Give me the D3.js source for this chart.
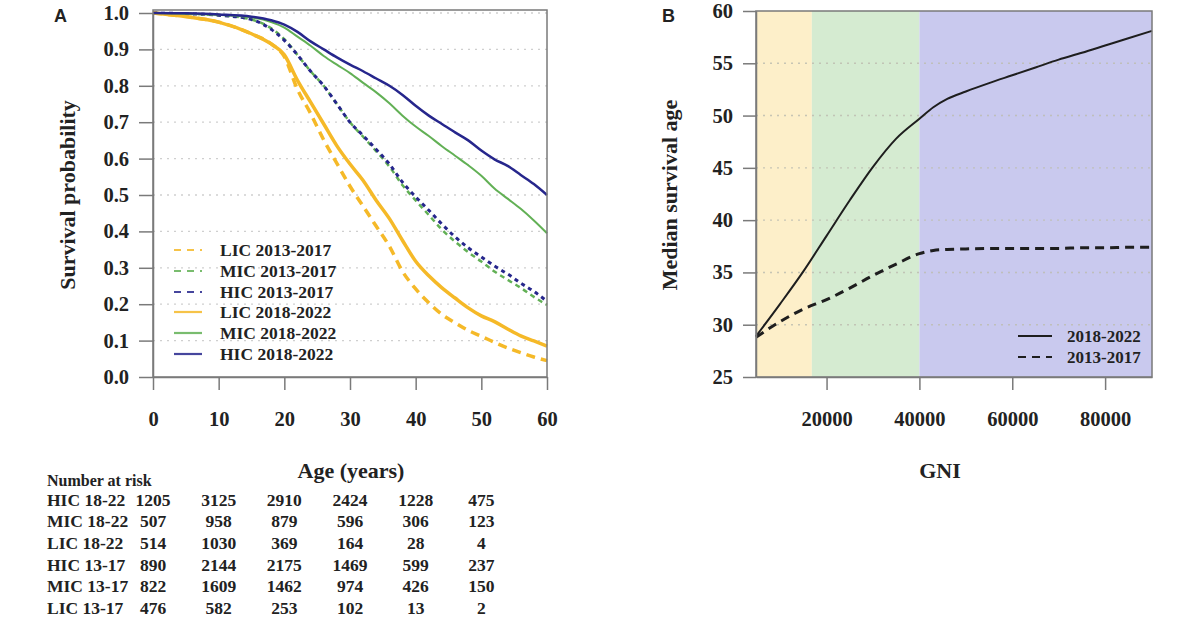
<!DOCTYPE html>
<html>
<head>
<meta charset="utf-8">
<script src="https://cdn.jsdelivr.net/npm/d3@7"></script>
<style>
  body { margin: 0; background: #fff; }
  text { font-family: "Liberation Serif", "Times New Roman", serif; font-weight: bold; fill: #222; }
</style>
</head>
<body>
<div id="chart"></div>
<script>
// Panel A: Kaplan-Meier survival
const ages = [0, 5, 10, 15, 18, 20, 22, 24, 26, 28, 30, 32, 34, 36, 38, 40, 42, 44, 46, 48, 50, 52, 54, 56, 58, 60];
const lic1317 = [1, 0.99, 0.975, 0.943, 0.915, 0.88, 0.79, 0.724, 0.651, 0.587, 0.524, 0.469, 0.414, 0.359, 0.29, 0.242, 0.204, 0.172, 0.149, 0.128, 0.112, 0.095, 0.08, 0.067, 0.055, 0.045];
const mic1317 = [1, 0.998, 0.994, 0.982, 0.958, 0.928, 0.885, 0.84, 0.8, 0.75, 0.7, 0.66, 0.62, 0.578, 0.527, 0.485, 0.445, 0.405, 0.372, 0.343, 0.317, 0.29, 0.267, 0.245, 0.22, 0.198];
const hic1317 = [1, 0.998, 0.994, 0.982, 0.955, 0.925, 0.885, 0.84, 0.8, 0.75, 0.7, 0.663, 0.625, 0.585, 0.535, 0.495, 0.458, 0.42, 0.385, 0.355, 0.33, 0.305, 0.283, 0.258, 0.235, 0.208];
const lic1822 = [1, 0.99, 0.975, 0.943, 0.915, 0.885, 0.815, 0.755, 0.695, 0.635, 0.585, 0.54, 0.485, 0.435, 0.375, 0.318, 0.278, 0.245, 0.217, 0.19, 0.168, 0.152, 0.132, 0.113, 0.099, 0.085];
const mic1822 = [1, 0.998, 0.995, 0.988, 0.975, 0.96, 0.935, 0.91, 0.882, 0.858, 0.835, 0.808, 0.782, 0.752, 0.718, 0.688, 0.662, 0.634, 0.608, 0.582, 0.553, 0.518, 0.49, 0.462, 0.43, 0.395];
const hic1822 = [1, 0.999, 0.996, 0.99, 0.98, 0.968, 0.948, 0.922, 0.9, 0.878, 0.858, 0.84, 0.82, 0.8, 0.775, 0.745, 0.718, 0.695, 0.672, 0.65, 0.622, 0.598, 0.58, 0.555, 0.53, 0.5];
const seriesNames = ["LIC 2013-2017", "MIC 2013-2017", "HIC 2013-2017", "LIC 2018-2022", "MIC 2018-2022", "HIC 2018-2022"];
const ageTicks = [0, 10, 20, 30, 40, 50, 60];
const probTicks = [0, 0.1, 0.2, 0.3, 0.4, 0.5, 0.6, 0.7, 0.8, 0.9, 1.0];

// Number at risk table
const riskLabels = ["HIC 18-22", "MIC 18-22", "LIC 18-22", "HIC 13-17", "MIC 13-17", "LIC 13-17"];
const riskAges = [0, 10, 20, 30, 40, 50];
const riskCounts = [
  [1205, 3125, 2910, 2424, 1228, 475],
  [507, 958, 879, 596, 306, 123],
  [514, 1030, 369, 164, 28, 4],
  [890, 2144, 2175, 1469, 599, 237],
  [822, 1609, 1462, 974, 426, 150],
  [476, 582, 253, 102, 13, 2]
];

// Panel B: median survival age by GNI
const gni = [4800, 10000, 15000, 20000, 25000, 30000, 35000, 40000, 43000, 46000, 50000, 55000, 60000, 65000, 70000, 75000, 80000, 85000, 90100];
const median1822 = [28.9, 32.0, 35.1, 38.5, 41.9, 45.1, 47.8, 49.7, 50.8, 51.6, 52.3, 53.1, 53.85, 54.6, 55.35, 56.0, 56.7, 57.4, 58.1];
const median1317 = [28.8, 30.3, 31.5, 32.4, 33.5, 34.7, 35.8, 36.8, 37.1, 37.2, 37.25, 37.3, 37.3, 37.3, 37.3, 37.35, 37.35, 37.4, 37.4];
const incomeBreaks = [4800, 16830, 40000, 90100];
const gniTicks = [20000, 40000, 60000, 80000];
const ageMedTicks = [25, 30, 35, 40, 45, 50, 55, 60];
const periodNames = ["2018-2022", "2013-2017"];

const W = 1200, H = 628;
const svg = d3.select("#chart").append("svg").attr("width", W).attr("height", H);

const boxColor = "#7a7a7a";
const gridColor = "#cfcfcf";
const tickFont = 20.5;

function styleAxis(g) {
  g.select(".domain").attr("stroke", boxColor).attr("stroke-width", 1.5);
  g.selectAll(".tick line").attr("stroke", boxColor).attr("stroke-width", 1.5);
  g.selectAll(".tick text").attr("font-size", tickFont).attr("font-family", "Liberation Serif")
    .attr("font-weight", "bold").attr("fill", "#222");
}

// ---------- Panel A ----------
const ax = d3.scaleLinear().domain([0, 60]).range([153, 547]);
const ay = d3.scaleLinear().domain([0, 1]).range([377, 13]);

const gA = svg.append("g");

// grid
gA.append("g").selectAll("line").data(probTicks.filter(d => d > 0)).join("line")
  .attr("x1", ax(0)).attr("x2", ax(60))
  .attr("y1", d => ay(d)).attr("y2", d => ay(d))
  .attr("stroke", gridColor).attr("stroke-width", 1.3).attr("stroke-dasharray", "2,5");

const colors = ["#f5b928", "#62b055", "#26268c", "#f5b928", "#62b055", "#26268c"];
const widths = [3.5, 2.5, 3, 3.5, 2, 2.5];
const dashes = ["9,6", "5,4", "4,4", null, null, null];
const series = [lic1317, mic1317, hic1317, lic1822, mic1822, hic1822];

const kmLine = d3.line().x((d, i) => ax(ages[i])).y(d => ay(d)).curve(d3.curveMonotoneX);
gA.append("g").selectAll("path").data(series).join("path")
  .attr("d", kmLine)
  .attr("fill", "none")
  .attr("stroke", (d, i) => colors[i])
  .attr("stroke-width", (d, i) => widths[i])
  .attr("stroke-dasharray", (d, i) => dashes[i]);

// box
gA.append("rect").attr("x", ax(0)).attr("y", 10).attr("width", ax(60) - ax(0)).attr("height", ay(0) - 10)
  .attr("fill", "none").attr("stroke", boxColor).attr("stroke-width", 1.5);

// axes
gA.append("g").attr("transform", `translate(0,${ay(0)})`)
  .call(d3.axisBottom(ax).tickValues(ageTicks).tickSize(13).tickSizeOuter(0).tickPadding(21))
  .call(styleAxis);
gA.append("g").attr("transform", `translate(${ax(0)},0)`)
  .call(d3.axisLeft(ay).tickValues(probTicks).tickFormat(d3.format(".1f")).tickSize(14).tickSizeOuter(0).tickPadding(10))
  .call(styleAxis);

// legend
const legA = gA.append("g");
const legRowsY = [250, 271, 292, 312, 333, 354];
seriesNames.forEach((name, i) => {
  legA.append("line").attr("x1", 174).attr("x2", 202).attr("y1", legRowsY[i]).attr("y2", legRowsY[i])
    .attr("stroke", colors[i]).attr("stroke-width", 2.2).attr("stroke-opacity", 0.85)
    .attr("stroke-dasharray", dashes[i] ? "7,6" : null);
  legA.append("text").attr("x", 220).attr("y", legRowsY[i]).attr("dy", "0.35em")
    .attr("font-size", 17.5).text(name);
});

// titles
gA.append("text").attr("transform", `translate(75,195) rotate(-90)`).attr("text-anchor", "middle")
  .attr("font-size", 22).text("Survival probability");
gA.append("text").attr("x", 351).attr("y", 478).attr("text-anchor", "middle").attr("font-size", 22).text("Age (years)");
gA.append("text").attr("x", 54).attr("y", 22).attr("font-size", 18)
  .style("font-family", "Liberation Sans, Arial, sans-serif").text("A");

// risk table
const riskG = gA.append("g");
riskG.append("text").attr("x", 47).attr("y", 486).attr("font-size", 16).text("Number at risk");
const rowY = [506, 527, 549, 571, 592, 614];
riskLabels.forEach((lab, r) => {
  riskG.append("text").attr("x", 47).attr("y", rowY[r]).attr("font-size", 17.5).text(lab);
  riskG.selectAll(null).data(riskCounts[r]).join("text")
    .attr("x", (d, i) => ax(riskAges[i])).attr("y", rowY[r]).attr("text-anchor", "middle")
    .attr("font-size", 17.5).text(d => d);
});

// ---------- Panel B ----------
const bx = d3.scaleLinear().domain([4800, 90100]).range([756, 1152]);
const by = d3.scaleLinear().domain([25, 60]).range([377, 11]);
const gB = svg.append("g");

const bandColors = ["#fdefc9", "#d5ebd1", "#c9c9ee"];
gB.append("g").selectAll("rect").data(d3.pairs(incomeBreaks)).join("rect")
  .attr("x", d => bx(d[0])).attr("width", d => bx(d[1]) - bx(d[0]))
  .attr("y", by(60)).attr("height", by(25) - by(60))
  .attr("fill", (d, i) => bandColors[i]);

gB.append("g").selectAll("line").data(ageMedTicks.filter(d => d > 25 && d < 60)).join("line")
  .attr("x1", bx(4800)).attr("x2", bx(90100))
  .attr("y1", d => by(d)).attr("y2", d => by(d))
  .attr("stroke", "#bdbdb0").attr("stroke-opacity", 0.85).attr("stroke-width", 1.4).attr("stroke-dasharray", "2,5");

const medLine = d3.line().x((d, i) => bx(gni[i])).y(d => by(d)).curve(d3.curveMonotoneX);
gB.append("path").datum(median1822).attr("d", medLine).attr("fill", "none")
  .attr("stroke", "#1e1e1e").attr("stroke-width", 2);
gB.append("path").datum(median1317).attr("d", medLine).attr("fill", "none")
  .attr("stroke", "#1e1e1e").attr("stroke-width", 3).attr("stroke-dasharray", "9,6");

gB.append("rect").attr("x", bx(4800)).attr("y", by(60)).attr("width", bx(90100) - bx(4800)).attr("height", by(25) - by(60))
  .attr("fill", "none").attr("stroke", boxColor).attr("stroke-width", 1.5);

gB.append("g").attr("transform", `translate(0,${by(25)})`)
  .call(d3.axisBottom(bx).tickValues(gniTicks).tickFormat(d3.format("d")).tickSize(13).tickSizeOuter(0).tickPadding(21))
  .call(styleAxis);
gB.append("g").attr("transform", `translate(${bx(4800)},0)`)
  .call(d3.axisLeft(by).tickValues(ageMedTicks).tickSize(13).tickSizeOuter(0).tickPadding(10))
  .call(styleAxis);

// legend B
const legBY = [336, 357];
periodNames.forEach((name, i) => {
  gB.append("line").attr("x1", 1018).attr("x2", 1052).attr("y1", legBY[i]).attr("y2", legBY[i])
    .attr("stroke", "#1e1e1e").attr("stroke-width", 2).attr("stroke-dasharray", i ? "8,6" : null);
  gB.append("text").attr("x", 1067).attr("y", legBY[i]).attr("dy", "0.35em").attr("font-size", 17).text(name);
});

gB.append("text").attr("transform", `translate(677,195) rotate(-90)`).attr("text-anchor", "middle")
  .attr("font-size", 22).text("Median survival age");
gB.append("text").attr("x", 940).attr("y", 478).attr("text-anchor", "middle").attr("font-size", 22).text("GNI");
gB.append("text").attr("x", 662).attr("y", 22).attr("font-size", 18)
  .style("font-family", "Liberation Sans, Arial, sans-serif").text("B");
</script>
</body>
</html>
